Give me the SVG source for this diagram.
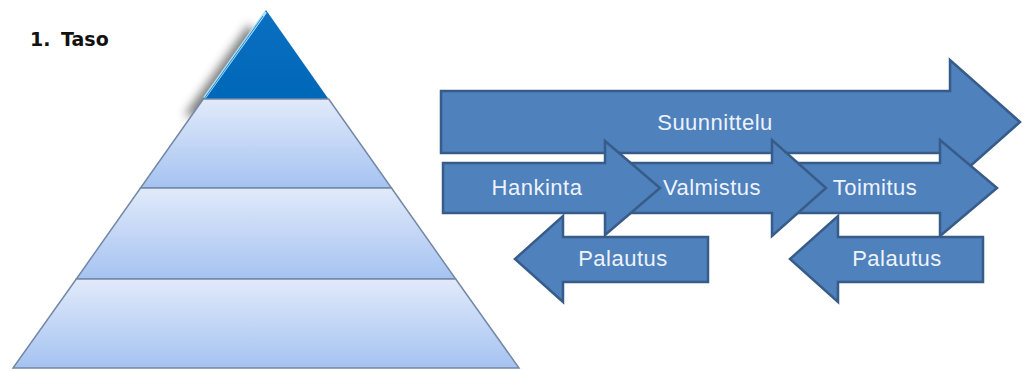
<svg xmlns="http://www.w3.org/2000/svg" width="1024" height="372" viewBox="0 0 1024 372">
  <defs>
    <linearGradient id="band" x1="0" y1="0" x2="0" y2="1">
      <stop offset="0" stop-color="#e1eafa"/>
      <stop offset="1" stop-color="#a5c3f1"/>
    </linearGradient>
    <linearGradient id="cap" x1="0" y1="0" x2="0" y2="1">
      <stop offset="0" stop-color="#0b6fc2"/>
      <stop offset="1" stop-color="#0068b8"/>
    </linearGradient>
    <filter id="soft" x="-50%" y="-50%" width="200%" height="200%">
      <feGaussianBlur stdDeviation="5"/>
    </filter>
  </defs>
  <style>
    .band { fill: url(#band); stroke: #7388a6; stroke-width: 1.5; }
    .arrow { fill: #4f81bd; stroke: #375c89; stroke-width: 2.5; stroke-linejoin: miter; }
    .lbl { font-family: "Liberation Sans", Arial, sans-serif; font-size: 22px; letter-spacing: 0.5px; fill: #eef3fb; text-anchor: middle; }
    .title { font-family: "DejaVu Sans", Verdana, sans-serif; font-size: 19px; font-weight: bold; fill: #111; }
  </style>

  <rect width="1024" height="372" fill="#ffffff"/>

  <!-- level caption -->
  <text class="title" y="46"><tspan x="30">1.</tspan><tspan x="61">Taso</tspan></text>

  <!-- pyramid -->
  <g id="pyramid">
    <g id="pyramid-top">
      <polygon points="249,24 184,116 306,116" fill="#444" opacity="0.7" filter="url(#soft)"/>
      <polygon points="266,10 203.5,99 328.5,99" fill="url(#cap)"/>
      <polyline points="265,13 205,97" fill="none" stroke="#a9e0fa" stroke-width="3" stroke-linecap="round"/>
      <polyline points="263,16 204,99" fill="none" stroke="#2a86cf" stroke-width="1"/>
    </g>
    <polygon id="level-2" class="band" points="203.3,99 328.7,99 391.5,188 140.5,188"/>
    <polygon id="level-3" class="band" points="140.5,188 391.5,188 455.7,279 76.3,279"/>
    <polygon id="level-4" class="band" points="76.3,279 455.7,279 519,368 13,368"/>
  </g>

  <!-- process arrows -->
  <g id="connectors">
    <g id="suunnittelu">
      <path class="arrow" d="M441,91 L950,91 L950,60 L1020,122 L950,184 L950,153 L441,153 Z"/>
      <text class="lbl" x="715" y="130">Suunnittelu</text>
    </g>
    <g id="toimitus">
      <path class="arrow" d="M780,163 L940,163 L940,140 L997,188 L940,236 L940,213 L780,213 Z"/>
    </g>
    <g id="valmistus">
      <path class="arrow" d="M610,163 L772,163 L772,140 L826,188 L772,236 L772,213 L610,213 Z"/>
    </g>
    <g id="hankinta">
      <path class="arrow" d="M443,163 L605,163 L605,141 L660,188 L605,235 L605,213 L443,213 Z"/>
    </g>
    <g id="palautus-1">
      <path class="arrow" d="M708,237 L563,237 L563,216 L515,259 L563,302 L563,282 L708,282 Z"/>
    </g>
    <g id="palautus-2">
      <path class="arrow" d="M983,237 L838,237 L838,216 L790,259 L838,302 L838,282 L983,282 Z"/>
    </g>
  </g>

  <g id="labels">
    <text class="lbl" x="537" y="195">Hankinta</text>
    <text class="lbl" x="712" y="195">Valmistus</text>
    <text class="lbl" x="875" y="195">Toimitus</text>
    <text class="lbl" x="623" y="266">Palautus</text>
    <text class="lbl" x="897" y="266">Palautus</text>
  </g>
</svg>
